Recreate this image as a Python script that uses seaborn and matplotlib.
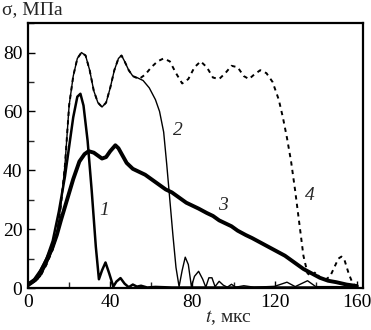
import numpy as np
import pandas as pd
import matplotlib
matplotlib.use("Agg")
import matplotlib.pyplot as plt
import seaborn as sns
from matplotlib.ticker import MultipleLocator

# curve 1
t1 = [0, 3, 6, 9, 12, 15, 18, 20, 22, 24, 25.5, 27, 29, 31, 33, 34.5, 36, 37.7, 39.5, 41.5,
      43, 45, 47, 49, 51, 53, 55, 58, 62, 70, 80, 100, 130, 160]
y1 = [1.5, 3, 6, 10, 16, 26, 38, 48, 58, 65, 66, 62, 50, 33, 14, 3, 6, 8.7, 5, 0.5,
      2.2, 3.4, 1.5, 0.3, 1.2, 0.5, 0.8, 0.2, 0.4, 0.2, 0.2, 0.2, 0.2, 0.2]

# curves 2 and 4 share the rising part
t_common = [0, 3, 6, 9, 12, 14, 16, 18, 20, 22, 24, 26, 28, 30, 32, 34, 36, 38, 40, 42, 44, 45.5, 47, 49, 51]
y_common = [1, 2, 4, 8, 13, 18, 28, 42, 62, 72, 78, 80, 79, 74, 67, 63, 61.5, 63, 68, 74, 78, 79, 77, 74, 72]

t2 = t_common + [53, 56, 59, 62, 64, 66, 67.5, 69, 70.5, 72, 73.5, 75, 76.5, 78, 79.5, 81, 83, 85,
                 86.5, 88, 89.5, 91, 93, 95, 97, 99, 101, 105, 110, 120, 126, 130, 136, 140, 150, 160]
y2 = y_common + [71.5, 70.5, 68, 64, 60, 53, 42, 30, 18, 7, 0.5, 6, 10.5, 8, 0.5, 4, 5.7, 3,
                 0.3, 3.5, 3.5, 0.5, 2.3, 1, 0.3, 1.3, 0.3, 0.8, 0.3, 0.6, 2, 0.5, 2.5, 0.5, 0.5, 0.3]

t4 = t_common + [54, 57, 60, 63, 66, 69, 72, 75, 78, 81, 84, 87, 90, 93, 96, 99, 102, 105, 107.5,
                 110, 113, 116, 119, 122, 124, 126, 128, 130, 132, 134, 136, 138, 140, 142, 145,
                 147, 149, 151, 152.5, 154, 156, 158, 160]
y4 = y_common + [71, 72.5, 75, 77, 78, 77, 73, 69.5, 71, 75, 77, 75, 71.5, 71, 73, 75.5, 75, 72, 71,
                 72.5, 74, 73, 70, 64, 58, 51, 43, 33, 22, 11, 5, 4, 5.5, 3.5, 3,
                 4, 7, 10, 10.7, 9.5, 5, 1.5, 0.5]

# curve 3
t3 = [0, 3, 5, 8, 10, 12, 14, 16, 19, 22, 25, 27.5, 29.5, 32, 34, 36, 38, 40, 42.5, 44, 46, 48,
      51, 54, 57, 60, 64, 67, 70, 74, 77, 80, 83, 87, 90, 93, 96, 99, 102, 106, 109, 113, 117,
      121, 125, 130, 134, 138, 142, 146, 150, 155, 160]
y3 = [1, 2.5, 4, 8, 11, 14, 18, 23, 30, 37, 43, 45.5, 46.5, 46, 45, 44, 44.5, 46.5, 48.5, 47.5, 45, 42.5,
      40.5, 39.5, 38.5, 37, 35, 33.5, 32.5, 30.5, 29, 28, 27, 25.5, 24.5, 23, 22, 21, 19.5, 18, 17, 15.5, 14,
      12.5, 11, 8.5, 6.5, 5, 3.5, 2.5, 2, 1.2, 0.7]

labels = ["1", "2", "3", "4"]
label_pos = [(37, 26.4), (73, 53.4), (95, 28), (137, 31.4)]

sns.set_theme(style="ticks")
plt.rcParams['font.family'] = ['Liberation Serif', 'DejaVu Serif']
plt.rcParams['mathtext.fontset'] = 'stix'

fig = plt.figure(figsize=(3.71, 3.30), dpi=100)
ax = fig.add_axes([0.0755, 0.127, 0.903, 0.803])

sns.lineplot(x=t4, y=y4, ax=ax, color='black', lw=1.4, linestyle=(0, (2.2, 2.2)), sort=False)
sns.lineplot(x=t2, y=y2, ax=ax, color='black', lw=1.0, sort=False)
sns.lineplot(x=t1, y=y1, ax=ax, color='black', lw=1.8, sort=False)
sns.lineplot(x=t3, y=y3, ax=ax, color='black', lw=2.8, sort=False)

# curve numbers
for lab, (lx, ly) in zip(labels, label_pos):
    ax.text(lx, ly, lab, fontsize=14, style='italic', ha='center', va='center')

ax.set_xlim(0, 163)
ax.set_ylim(0, 90)
ax.xaxis.set_major_locator(MultipleLocator(40))
ax.xaxis.set_minor_locator(MultipleLocator(20))
ax.yaxis.set_major_locator(MultipleLocator(20))
ax.yaxis.set_minor_locator(MultipleLocator(10))
ax.tick_params(which='major', direction='in', length=5, width=1, labelsize=14, pad=4, colors='black')
ax.tick_params(which='minor', direction='in', length=4, width=1)
for s in ax.spines.values():
    s.set_linewidth(1.6)
    s.set_color('black')

fig.text(0.005, 0.945, "σ, МПа", fontsize=14, ha='left', va='bottom')
fig.text(0.615, 0.008, "$t$, мкс", fontsize=14, ha='center', va='bottom')

fig.savefig("out.png", dpi=100)
